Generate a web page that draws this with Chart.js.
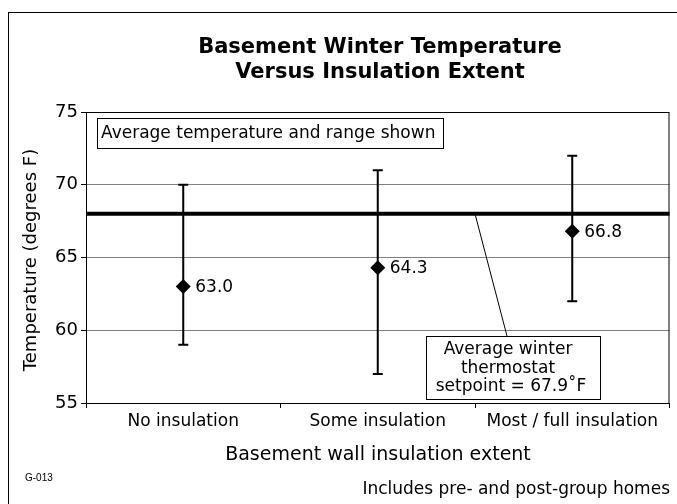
<!DOCTYPE html>
<html>
<head>
<meta charset="utf-8">
<script src="https://cdn.jsdelivr.net/npm/chart.js@4.4.0/dist/chart.umd.min.js"></script>
<style>
  html, body { margin: 0; padding: 0; background: #fff; }
  #wrap { width: 677px; height: 504px; }
</style>
</head>
<body>
<div id="wrap"><canvas id="tempChart" width="677" height="504"></canvas></div>
<script>
const categories = ["No insulation", "Some insulation", "Most / full insulation"];
const avgTemp = [63.0, 64.3, 66.8];
const minTemp = [59, 57, 62];
const maxTemp = [70, 71, 72];
const setpoint = 68;
const yTicks = [55, 60, 65, 70, 75];

const FONT = "'DejaVu Sans', sans-serif";

// error bars, setpoint line, labels and notes
const extras = {
  id: "extras",
  beforeDatasetsDraw(chart) {
    const { ctx, chartArea, scales } = chart;
    const x = scales.x, y = scales.y;
    ctx.save();
    ctx.strokeStyle = "#000";
    ctx.lineWidth = 2;
    categories.forEach((c, i) => {
      const px = x.getPixelForValue(i);
      const top = y.getPixelForValue(maxTemp[i]);
      const bot = y.getPixelForValue(minTemp[i]);
      ctx.beginPath();
      ctx.moveTo(px, top);
      ctx.lineTo(px, bot);
      ctx.moveTo(px - 5, top);
      ctx.lineTo(px + 5, top);
      ctx.moveTo(px - 5, bot);
      ctx.lineTo(px + 5, bot);
      ctx.stroke();
    });
    // setpoint line
    const sy = y.getPixelForValue(setpoint);
    ctx.lineWidth = 4;
    ctx.beginPath();
    ctx.moveTo(chartArea.left, sy);
    ctx.lineTo(chartArea.right, sy);
    ctx.stroke();
    ctx.restore();
  },
  afterDatasetsDraw(chart) {
    const { ctx, chartArea, scales } = chart;
    const meta = chart.getDatasetMeta(0);
    ctx.save();
    ctx.fillStyle = "#000";
    ctx.font = "17px " + FONT;
    ctx.textBaseline = "middle";
    ctx.textAlign = "left";
    meta.data.forEach((pt, i) => {
      ctx.fillText(avgTemp[i].toFixed(1), pt.x + 12, pt.y + 1);
    });

    // plot frame
    ctx.strokeStyle = "#000";
    ctx.lineWidth = 1;
    ctx.strokeRect(chartArea.left + 0.5, chartArea.top + 0.5,
      chartArea.right - chartArea.left - 1, chartArea.bottom - chartArea.top);

    // note box top-left
    const nx = chartArea.left + 11, ny = chartArea.top + 6;
    ctx.fillStyle = "#fff";
    ctx.fillRect(nx, ny, 346, 30);
    ctx.strokeRect(nx + 0.5, ny + 0.5, 346, 30);
    ctx.fillStyle = "#000";
    ctx.fillText("Average temperature and range shown", nx + 4, ny + 16);

    // setpoint callout
    const sy = scales.y.getPixelForValue(setpoint);
    ctx.beginPath();
    ctx.moveTo(475, sy);
    ctx.lineTo(507, 336);
    ctx.stroke();
    ctx.fillStyle = "#fff";
    ctx.fillRect(426, 336, 174, 63);
    ctx.strokeRect(426.5, 336.5, 174, 63);
    ctx.fillStyle = "#000";
    ctx.textAlign = "center";
    ctx.fillText("Average winter", 508, 350);
    ctx.fillText("thermostat", 508, 369);
    ctx.fillText("setpoint = 67.9\u02DAF", 511, 387);
    ctx.restore();
  },
  afterDraw(chart) {
    const { ctx } = chart;
    ctx.save();
    ctx.fillStyle = "#000";
    ctx.textAlign = "center";
    ctx.textBaseline = "middle";
    ctx.font = "bold 21px " + FONT;
    ctx.fillText("Basement Winter Temperature", 380, 48);
    ctx.fillText("Versus Insulation Extent", 380, 73);

    ctx.font = "19px " + FONT;
    ctx.fillText("Basement wall insulation extent", 378, 455);

    ctx.save();
    ctx.font = "18px " + FONT;
    ctx.translate(31, 260);
    ctx.rotate(-Math.PI / 2);
    ctx.fillText("Temperature (degrees F)", 0, 0);
    ctx.restore();

    ctx.font = "10px Arial, 'Liberation Sans', sans-serif";
    ctx.textAlign = "left";
    ctx.fillText("G-013", 25, 478);
    ctx.font = "17px " + FONT;
    ctx.textAlign = "right";
    ctx.fillText("Includes pre- and post-group homes", 670, 490);

    // outer frame
    ctx.strokeStyle = "#000";
    ctx.lineWidth = 1;
    ctx.strokeRect(8.5, 12.5, 700, 600);
    ctx.restore();
  }
};

new Chart(document.getElementById("tempChart"), {
  type: "line",
  data: {
    labels: categories,
    datasets: [
      {
        label: "Average",
        data: avgTemp,
        showLine: false,
        pointStyle: "rectRot",
        pointRadius: 7.5,
        pointHoverRadius: 7.5,
        backgroundColor: "#000",
        borderColor: "#000",
        borderWidth: 0,
      },
    ],
  },
  options: {
    responsive: false,
    animation: false,
    events: [],
    layout: { padding: { left: 0, top: 112, right: 6, bottom: 0 } },
    scales: {
      x: {
        offset: true,
        afterFit: (s) => { s.height = 101; },
        grid: {
          offset: true,
          drawOnChartArea: false,
          drawTicks: true,
          tickLength: 5,
          tickColor: "#000",
        },
        border: { color: "#000", width: 1 },
        ticks: {
          color: "#000",
          font: { family: FONT, size: 17 },
          padding: 3,
          maxRotation: 0,
        },
      },
      y: {
        min: 55,
        max: 75,
        afterFit: (s) => { s.width = 86; },
        afterBuildTicks: (s) => { s.ticks = yTicks.map((v) => ({ value: v })); },
        grid: {
          color: "#808080",
          lineWidth: 1,
          tickLength: 5,
          tickColor: "#000",
        },
        border: { color: "#000", width: 1 },
        ticks: {
          color: "#000",
          font: { family: FONT, size: 18 },
          padding: 3,
        },
      },
    },
    plugins: {
      legend: { display: false },
      tooltip: { enabled: false },
      title: { display: false },
    },
  },
  plugins: [extras],
});
</script>
</body>
</html>
